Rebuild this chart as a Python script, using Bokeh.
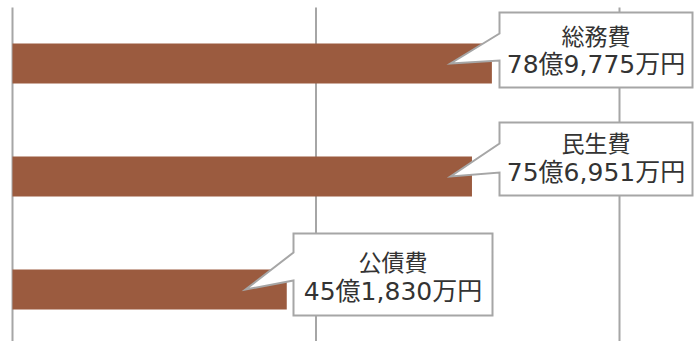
from bokeh.plotting import figure
from bokeh.models import Range1d, ColumnDataSource
from bokeh.core.properties import value
from bokeh.embed import file_html
from bokeh.resources import INLINE

# ---- data ----
categories = ["総務費", "民生費", "公債費"]
amounts_oku = [78.9775, 75.6951, 45.1830]          # 億円
amount_labels = ["78億9,775万円", "75億6,951万円", "45億1,830万円"]
grid_values = [0, 50, 100]

# ---- layout (pixel geometry) ----
W, H = 699, 341
X0_PX = 12.0          # pixel of value 0
SX = 6.07             # px per 億
ROW0_PX = 63.0        # pixel row of first bar center
SY = 113.0            # px per category step
BAR_PX = 40.0

def X(px):
    return (px - X0_PX) / SX

def Y(py):
    return (py - ROW0_PX) / SY

# callout geometry in pixels: left, right, top, bottom, attach_top, attach_bottom, tip_x, tip_y
callouts = [
    (499, 692, 12, 87, 33, 60, 450, 63),
    (499, 692, 122, 195, 143, 172, 450, 176),
    (293, 492, 233, 315, 252, 280, 245, 289),
]
name_dy = [24, 21, 29]
value_dy = [52, 50, 58]

BAR_COLOR = "#9B5B3F"
GRID_COLOR = "#A6A6A6"
TEXT_COLOR = "#333333"
FONT = "'DejaVu Sans', 'Noto Sans CJK JP', sans-serif"

p = figure(width=W, height=H, output_backend="svg", toolbar_location=None,
           x_range=Range1d(X(0), X(W)), y_range=Range1d(Y(H), Y(0)),
           min_border=0, outline_line_color=None)
p.axis.visible = False
p.xgrid.visible = False
p.ygrid.visible = False
p.background_fill_color = "white"
p.border_fill_color = "white"

# vertical grid lines
p.segment(x0=grid_values, x1=grid_values,
          y0=[Y(7)] * len(grid_values), y1=[Y(H)] * len(grid_values),
          line_color=GRID_COLOR, line_width=2)

# bars
idx = list(range(len(categories)))
src = ColumnDataSource(dict(y=idx, right=amounts_oku, cat=categories))
p.hbar(y="y", left=0, right="right", height=BAR_PX / SY, source=src,
       fill_color=BAR_COLOR, line_color=None)

# callouts
xs, ys = [], []
for (l, r, t, b, a1, a2, tx, ty) in callouts:
    pts = [(l, t), (r, t), (r, b), (l, b), (l, a2), (tx, ty), (l, a1)]
    xs.append([X(px) for px, _ in pts])
    ys.append([Y(py) for _, py in pts])
p.patches(xs, ys, fill_color="white", line_color=GRID_COLOR, line_width=2,
          line_join="miter")

cx = [X((c[0] + c[1]) / 2) for c in callouts]
ny = [Y(c[2] + d) for c, d in zip(callouts, name_dy)]
vy = [Y(c[2] + d) for c, d in zip(callouts, value_dy)]
p.text(x=cx, y=ny, text=categories, text_align="center", text_baseline="middle",
       text_font=value(FONT), text_font_size="23px", text_color=TEXT_COLOR)
p.text(x=cx, y=vy, text=amount_labels, text_align="center", text_baseline="middle",
       text_font=value(FONT), text_font_size="25px", text_color=TEXT_COLOR)

open("out.html", "w").write(file_html(p, INLINE))
